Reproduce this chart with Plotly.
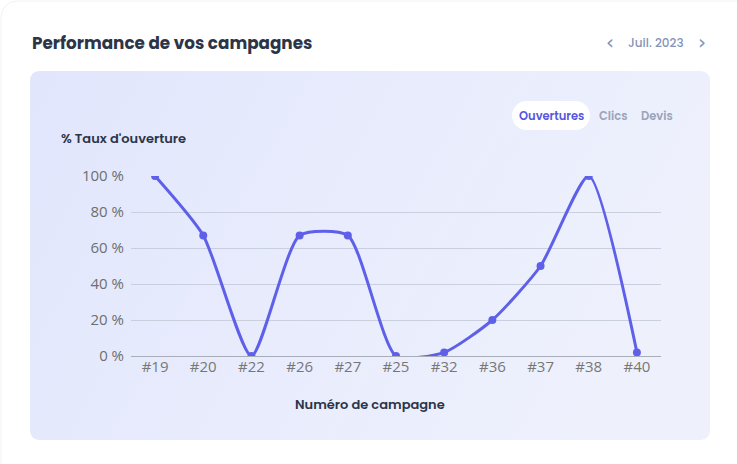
import base64
import plotly.graph_objects as go

W, H = 737, 464

campaigns = ["#19", "#20", "#22", "#26", "#27", "#25", "#32", "#36", "#37", "#38", "#40"]
open_rate = [100, 67, 0, 67, 67, 0, 2, 20, 50, 100, 2]
y_ticks = [0, 20, 40, 60, 80, 100]
y_tick_labels = [f"{v} %" for v in y_ticks]

TITLE = "Performance de vos campagnes"
PERIOD = "Juil. 2023"
Y_TITLE = "% Taux d'ouverture"
X_TITLE = "Numéro de campagne"
TABS = ["Ouvertures", "Clics", "Devis"]

LINE = "#5f60e9"
DARK = "#2c3548"
TITLE_FONT = "Poppins, Inter, sans-serif"
TICK_FONT = "Open Sans, Noto Sans, sans-serif"


def px(x):
    return x / W


def py(y):
    return 1 - y / H


svg = f'''<svg xmlns="http://www.w3.org/2000/svg" width="{W}" height="{H}" viewBox="0 0 {W} {H}" preserveAspectRatio="none">
<defs><linearGradient id="g" x1="0" y1="0" x2="1" y2="0.3">
<stop offset="0" stop-color="#e1e6fd"/><stop offset="1" stop-color="#eef1fc"/></linearGradient></defs>
<rect x="1" y="1" width="{W+20}" height="{H+20}" rx="16" fill="#ffffff" stroke="#f1f2f5" stroke-width="1"/>
<rect x="30" y="71" width="680" height="369" rx="9" fill="url(#g)"/>
<rect x="512" y="101" width="78" height="29" rx="14.5" fill="#ffffff"/>
</svg>'''
src = "data:image/svg+xml;base64," + base64.b64encode(svg.encode()).decode()

fig = go.Figure()
fig.add_trace(go.Scatter(
    x=campaigns, y=open_rate, mode="lines+markers",
    line=dict(color=LINE, width=3, shape="spline", smoothing=0.6),
    marker=dict(color=LINE, size=8),
    hoverinfo="x+y", showlegend=False,
))

fig.update_layout(
    width=W, height=H, autosize=False,
    margin=dict(l=0, r=0, t=0, b=0, pad=0, autoexpand=False),
    paper_bgcolor="#ffffff",
    plot_bgcolor="rgba(0,0,0,0)",
    images=[dict(source=src, xref="paper", yref="paper", x=0, y=1,
                 sizex=1, sizey=1, xanchor="left", yanchor="top",
                 sizing="stretch", layer="below")],
    xaxis=dict(
        domain=[px(131), px(661)],
        type="category", range=[-0.5, len(campaigns) - 0.5],
        showgrid=False, zeroline=False, automargin=False,
        showline=False, ticks="",
        tickfont=dict(family=TICK_FONT, size=15, color="#777777"),
        fixedrange=True,
    ),
    yaxis=dict(
        domain=[py(356), py(176)], automargin=False,
        range=[0, 100], tickmode="array", tickvals=y_ticks, ticktext=y_tick_labels,
        showgrid=True, gridcolor="#cacfdd", gridwidth=1,
        zeroline=True, zerolinecolor="#a9adb8", zerolinewidth=1,
        showline=False, ticks="", ticklabelstandoff=6,
        tickfont=dict(family=TICK_FONT, size=15, color="#6e6e6e"),
        fixedrange=True,
    ),
    font=dict(family=TITLE_FONT),
)

annotations = [
    dict(text=TITLE, x=px(30), y=py(43), xanchor="left", yanchor="middle",
         font=dict(family=TITLE_FONT, size=16.8, color=DARK, weight=700)),
    dict(text=PERIOD, x=px(656), y=py(43), xanchor="center", yanchor="middle",
         font=dict(family=TITLE_FONT, size=12, color="#8494b8", weight=500)),
    dict(text="‹", x=px(610), y=py(42), xanchor="center", yanchor="middle",
         font=dict(family="DejaVu Sans", size=20, color="#8494b8")),
    dict(text="›", x=px(702), y=py(42), xanchor="center", yanchor="middle",
         font=dict(family="DejaVu Sans", size=20, color="#8494b8")),
    dict(text=Y_TITLE, x=px(59), y=py(138), xanchor="left", yanchor="middle",
         font=dict(family=TITLE_FONT, size=13, color=DARK, weight=600)),
    dict(text=X_TITLE, x=px(370), y=py(404), xanchor="center", yanchor="middle",
         font=dict(family=TITLE_FONT, size=13, color=DARK, weight=600)),
    dict(text=TABS[0], x=px(551), y=py(116), xanchor="center", yanchor="middle",
         font=dict(family=TITLE_FONT, size=11.5, color="#5557e0", weight=600)),
    dict(text=TABS[1], x=px(613), y=py(116), xanchor="center", yanchor="middle",
         font=dict(family=TITLE_FONT, size=11.5, color="#9aa3ba", weight=600)),
    dict(text=TABS[2], x=px(657), y=py(116), xanchor="center", yanchor="middle",
         font=dict(family=TITLE_FONT, size=11.5, color="#9aa3ba", weight=600)),
]
for a in annotations:
    a.update(xref="paper", yref="paper", showarrow=False)
fig.update_layout(annotations=annotations)

fig.write_html("out.html", config={"displayModeBar": False, "responsive": False})
